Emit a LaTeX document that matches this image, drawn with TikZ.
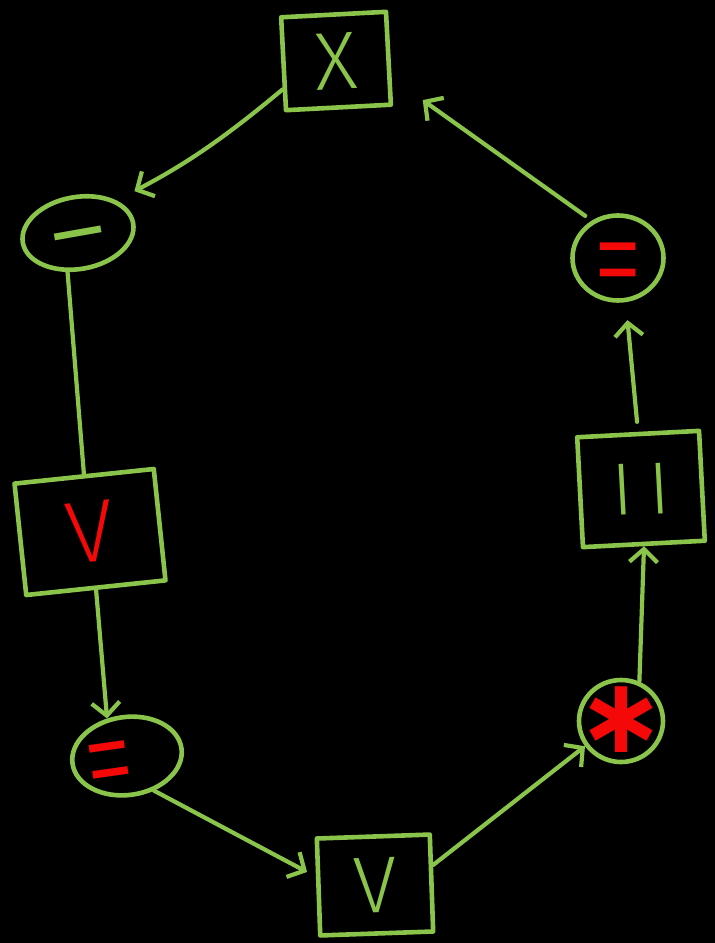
\documentclass[tikz,border=0pt]{standalone}
\usepackage{fontspec}
\usepackage{graphicx}
\usetikzlibrary{arrows.meta,shapes.geometric}
\newfontfamily\hand{Fira Sans Light}
\newfontfamily\symf{DejaVu Sans}
\definecolor{chalk}{RGB}{139,196,74}
\definecolor{marker}{RGB}{245,8,8}
% a glyph centred on the node centre, without size of its own
\newcommand\midglyph[2]{\makebox[0pt]{\raisebox{-#1}[0pt][0pt]{#2}}}

\begin{document}
\begin{tikzpicture}[x=1pt,y=-1pt,
  ink/.style={draw=chalk, line width=4.6pt, line join=round, line cap=round, text=chalk, inner sep=0pt, text height=0pt, text depth=0pt},
  sqbox/.style={ink, rectangle},
  oval/.style={ink, ellipse},
  pen/.style={font=\hand\fontsize{#1}{#1}\selectfont},
  link/.style={draw=chalk, line width=4.2pt, line cap=round, line join=round},
  arr/.style={link, -{Straight Barb[length=13pt,width=28pt]}}]

  % canvas
  \fill[black] (0,0) rectangle (715,943);
  \useasboundingbox (0,0) rectangle (715,943);

  % operands and operators around the loop
  \node[sqbox, pen=82, rotate=3, minimum width=105pt, minimum height=93pt] (x) at (336,61) {\midglyph{28.3pt}{X}};
  \node[oval, pen=133, rotate=10, minimum width=112pt, minimum height=72pt] (mn) at (78,233) {\midglyph{44pt}{−}};
  \node[sqbox, pen=88, rotate=6, minimum width=140pt, minimum height=112pt, text=marker] (vr) at (90,532) {\midglyph{30.4pt}{V}};
  \node[oval, pen=100, rotate=8, minimum width=110pt, minimum height=78pt, text=marker] (eqa) at (127,756) {\midglyph{51pt}{\scalebox{1}[1.5]{=}\hspace{36pt}}};
  \node[sqbox, pen=80, rotate=2, minimum width=113pt, minimum height=97pt] (vb) at (375,885) {\midglyph{27.6pt}{V}};
  \node[oval, font=\symf\bfseries\fontsize{105}{105}\selectfont, minimum width=84pt, minimum height=82pt, text=marker] (st) at (621,721) {\midglyph{31pt}{∗}};
  \node[sqbox, pen=74, rotate=3, minimum width=122pt, minimum height=110pt] (ii) at (641,489) {\midglyph{25.5pt}{I\hspace{16pt}I}};
  \node[oval, pen=100, minimum width=91pt, minimum height=85pt, text=marker] (eqb) at (618,258) {\midglyph{51pt}{\scalebox{1}[1.5]{=}}};

  % connectors
  \draw[arr, shorten >=20pt] (x.205) to[bend left=6] (mn.30);
  \draw[link] (mn.245) -- (vr.north);
  \draw[arr] (vr.south) -- (eqa.110);
  \draw[arr, shorten >=10pt] (eqa.-60) -- (vb.170);
  \draw[arr] (vb.17) -- (st.215);
  \draw[arr] (st.65) -- (ii.south);
  \draw[arr, shorten <=10pt, shorten >=18pt] (ii.north) -- (eqb.-80);
  \draw[arr, shorten <=8pt, shorten >=38pt] (eqb.125) -- (x.-20);
\end{tikzpicture}
\end{document}
